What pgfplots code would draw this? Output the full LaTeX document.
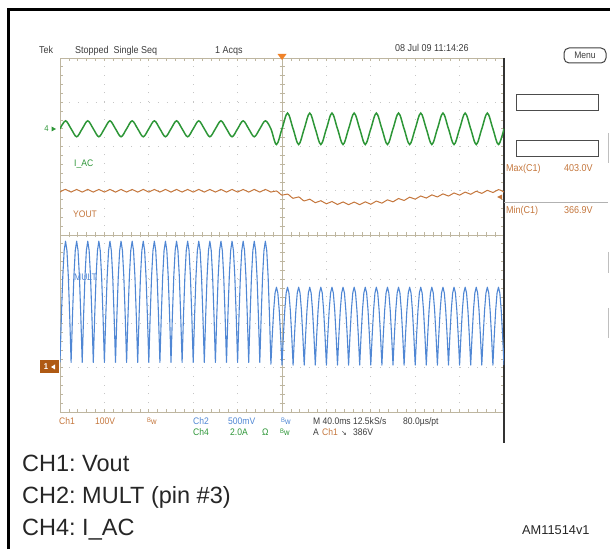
\documentclass[border=0pt]{standalone}
\usepackage{pgfplots}
\pgfplotsset{compat=1.18}
\usepackage{fontspec}
\setmainfont{Liberation Sans}
\newfontfamily\scopefont[FakeStretch=0.9]{Liberation Sans}
\newfontfamily\dejavu{DejaVu Sans}
\definecolor{gridc}{RGB}{190,182,160}
\definecolor{ch1}{RGB}{196,118,60}
\definecolor{ch2}{RGB}{80,135,212}
\definecolor{ch4}{RGB}{45,150,55}
\definecolor{txt}{RGB}{60,60,60}
\definecolor{mark1}{RGB}{175,90,20}
\definecolor{trig}{RGB}{240,130,40}
\newcommand{\bw}{\raisebox{1.8pt}{\fontsize{6.5}{7}\selectfont B}\kern-0.1pt{\fontsize{8.5}{9}\selectfont w}}
\tikzset{t/.style={anchor=base west, inner sep=0pt}}
\frenchspacing
\begin{document}
\frenchspacing
\begin{tikzpicture}
\path[use as bounding box] (0pt,0pt) rectangle (610pt,549pt);
\begin{scope}[x=1pt,y=1pt]
% outer frame
\draw[line width=3pt] (8,0) -- (8,539) -- (610,539);
% graticule dots
\foreach \k in {1,2,3,4,6,7,8,9}
  \draw[gray!45, line width=0.9pt, dash pattern=on 0.9pt off 7.95pt] ({60+44.4*\k},137) -- ({60+44.4*\k},491);
\foreach \k in {1,2,3,5,6,7}
  \draw[gray!45, line width=0.9pt, dash pattern=on 0.9pt off 7.98pt] (60,{137+44.25*\k}) -- (504,{137+44.25*\k});
% centre lines
\draw[gridc, line width=0.8pt] (282,137) -- (282,491);
\draw[gridc, line width=0.8pt] (60,314) -- (504,314);
\foreach \i in {1,...,39} \draw[gridc, line width=0.7pt] (279.5,{137+8.85*\i}) -- (284.5,{137+8.85*\i});
\foreach \i in {1,...,49} \draw[gridc, line width=0.7pt] ({60+8.88*\i},311.5) -- ({60+8.88*\i},316.5);
% border
\draw[gridc, line width=0.9pt] (60,137) rectangle (504,491);
\foreach \i in {1,...,49} {
  \draw[gridc, line width=0.7pt] ({60+8.88*\i},491) -- ++(0,-3);
  \draw[gridc, line width=0.7pt] ({60+8.88*\i},137) -- ++(0,3);
}
\foreach \i in {1,...,39} {
  \draw[gridc, line width=0.7pt] (60,{137+8.85*\i}) -- ++(3,0);
  \draw[gridc, line width=0.7pt] (504,{137+8.85*\i}) -- ++(-3,0);
}
\draw[gray!40!black, line width=1.2pt] (504,491) -- (504,106);
\end{scope}

\begin{axis}[at={(60pt,137pt)}, anchor=south west, width=444pt, height=354pt,
  scale only axis, xmin=0, xmax=400, ymin=-4, ymax=4, axis lines=none]
% CH4 I_AC
\addplot[ch4, line width=1.5pt, smooth, tension=0.55] coordinates {
(0,2.40)(5,2.58)(10,2.40)(15,2.22)(20,2.40)(25,2.58)(30,2.40)(35,2.22)(40,2.40)(45,2.58)
(50,2.40)(55,2.22)(60,2.40)(65,2.58)(70,2.40)(75,2.22)(80,2.40)(85,2.58)(90,2.40)(95,2.22)
(100,2.40)(105,2.58)(110,2.40)(115,2.22)(120,2.40)(125,2.58)(130,2.40)(135,2.22)(140,2.40)(145,2.58)
(150,2.40)(155,2.22)(160,2.40)(165,2.58)(170,2.40)(175,2.22)(180,2.40)(185,2.58)(190,2.40)(195,2.045)
(200,2.40)(205,2.755)(210,2.40)(215,2.045)(220,2.40)(225,2.755)(230,2.40)(235,2.045)(240,2.40)(245,2.755)
(250,2.40)(255,2.045)(260,2.40)(265,2.755)(270,2.40)(275,2.045)(280,2.40)(285,2.755)(290,2.40)(295,2.045)
(300,2.40)(305,2.755)(310,2.40)(315,2.045)(320,2.40)(325,2.755)(330,2.40)(335,2.045)(340,2.40)(345,2.755)
(350,2.40)(355,2.045)(360,2.40)(365,2.755)(370,2.40)(375,2.045)(380,2.40)(385,2.755)(390,2.40)(395,2.045)
(400,2.40)};
% CH1 Vout
\addplot[ch1, line width=1pt, smooth] coordinates {
(0,0.97)(5,1.03)(10,0.97)(15,1.03)(20,0.97)(25,1.03)(30,0.97)(35,1.03)(40,0.97)(45,1.03)
(50,0.97)(55,1.03)(60,0.97)(65,1.03)(70,0.97)(75,1.03)(80,0.97)(85,1.03)(90,0.97)(95,1.03)
(100,0.97)(105,1.03)(110,0.97)(115,1.03)(120,0.97)(125,1.03)(130,0.97)(135,1.03)(140,0.97)(145,1.03)
(150,0.97)(155,1.03)(160,0.97)(165,1.03)(170,0.97)(175,1.03)(180,0.97)(185,1.03)(190,0.97)(195,0.995)
(200,0.90)(205,0.925)(210,0.83)(215,0.86)(220,0.77)(225,0.81)(230,0.73)(235,0.775)(240,0.705)(245,0.757)
(250,0.69)(255,0.747)(260,0.685)(265,0.745)(270,0.685)(275,0.75)(280,0.695)(285,0.767)(290,0.72)(295,0.795)
(300,0.75)(305,0.825)(310,0.78)(315,0.855)(320,0.81)(325,0.882)(330,0.835)(335,0.907)(340,0.86)(345,0.93)
(350,0.88)(355,0.95)(360,0.90)(365,0.97)(370,0.92)(375,0.99)(380,0.94)(385,1.01)(390,0.96)(395,1.025)
(400,0.97)};
% CH2 MULT
\addplot[ch2, line width=1.1pt, line join=round] coordinates {
(0,-2.88)(1.25,-1.83)(2.5,-0.94)(3.75,-0.35)(5,-0.14)(6.25,-0.35)(7.5,-0.94)(8.75,-1.83)
(10,-2.88)(11.25,-1.83)(12.5,-0.94)(13.75,-0.35)(15,-0.14)(16.25,-0.35)(17.5,-0.94)(18.75,-1.83)
(20,-2.88)(21.25,-1.83)(22.5,-0.94)(23.75,-0.35)(25,-0.14)(26.25,-0.35)(27.5,-0.94)(28.75,-1.83)
(30,-2.88)(31.25,-1.83)(32.5,-0.94)(33.75,-0.35)(35,-0.14)(36.25,-0.35)(37.5,-0.94)(38.75,-1.83)
(40,-2.88)(41.25,-1.83)(42.5,-0.94)(43.75,-0.35)(45,-0.14)(46.25,-0.35)(47.5,-0.94)(48.75,-1.83)
(50,-2.88)(51.25,-1.83)(52.5,-0.94)(53.75,-0.35)(55,-0.14)(56.25,-0.35)(57.5,-0.94)(58.75,-1.83)
(60,-2.88)(61.25,-1.83)(62.5,-0.94)(63.75,-0.35)(65,-0.14)(66.25,-0.35)(67.5,-0.94)(68.75,-1.83)
(70,-2.88)(71.25,-1.83)(72.5,-0.94)(73.75,-0.35)(75,-0.14)(76.25,-0.35)(77.5,-0.94)(78.75,-1.83)
(80,-2.88)(81.25,-1.83)(82.5,-0.94)(83.75,-0.35)(85,-0.14)(86.25,-0.35)(87.5,-0.94)(88.75,-1.83)
(90,-2.88)(91.25,-1.83)(92.5,-0.94)(93.75,-0.35)(95,-0.14)(96.25,-0.35)(97.5,-0.94)(98.75,-1.83)
(100,-2.88)(101.25,-1.83)(102.5,-0.94)(103.75,-0.35)(105,-0.14)(106.25,-0.35)(107.5,-0.94)(108.75,-1.83)
(110,-2.88)(111.25,-1.83)(112.5,-0.94)(113.75,-0.35)(115,-0.14)(116.25,-0.35)(117.5,-0.94)(118.75,-1.83)
(120,-2.88)(121.25,-1.83)(122.5,-0.94)(123.75,-0.35)(125,-0.14)(126.25,-0.35)(127.5,-0.94)(128.75,-1.83)
(130,-2.88)(131.25,-1.83)(132.5,-0.94)(133.75,-0.35)(135,-0.14)(136.25,-0.35)(137.5,-0.94)(138.75,-1.83)
(140,-2.88)(141.25,-1.83)(142.5,-0.94)(143.75,-0.35)(145,-0.14)(146.25,-0.35)(147.5,-0.94)(148.75,-1.83)
(150,-2.88)(151.25,-1.83)(152.5,-0.94)(153.75,-0.35)(155,-0.14)(156.25,-0.35)(157.5,-0.94)(158.75,-1.83)
(160,-2.88)(161.25,-1.83)(162.5,-0.94)(163.75,-0.35)(165,-0.14)(166.25,-0.35)(167.5,-0.94)(168.75,-1.83)
(170,-2.88)(171.25,-1.83)(172.5,-0.94)(173.75,-0.35)(175,-0.14)(176.25,-0.35)(177.5,-0.94)(178.75,-1.83)
(180,-2.88)(181.25,-1.83)(182.5,-0.94)(183.75,-0.35)(185,-0.14)(186.25,-0.35)(187.5,-0.94)(188.75,-1.83)
(190,-2.92)
(191.25,-2.27)(192.5,-1.70)(193.75,-1.31)(195,-1.18)(196.25,-1.31)(197.5,-1.70)(198.75,-2.27)(200,-2.94)
(201.25,-2.27)(202.5,-1.70)(203.75,-1.31)(205,-1.18)(206.25,-1.31)(207.5,-1.70)(208.75,-2.27)(210,-2.94)
(211.25,-2.27)(212.5,-1.70)(213.75,-1.31)(215,-1.18)(216.25,-1.31)(217.5,-1.70)(218.75,-2.27)(220,-2.94)
(221.25,-2.27)(222.5,-1.70)(223.75,-1.31)(225,-1.18)(226.25,-1.31)(227.5,-1.70)(228.75,-2.27)(230,-2.94)
(231.25,-2.27)(232.5,-1.70)(233.75,-1.31)(235,-1.18)(236.25,-1.31)(237.5,-1.70)(238.75,-2.27)(240,-2.94)
(241.25,-2.27)(242.5,-1.70)(243.75,-1.31)(245,-1.18)(246.25,-1.31)(247.5,-1.70)(248.75,-2.27)(250,-2.94)
(251.25,-2.27)(252.5,-1.70)(253.75,-1.31)(255,-1.18)(256.25,-1.31)(257.5,-1.70)(258.75,-2.27)(260,-2.94)
(261.25,-2.27)(262.5,-1.70)(263.75,-1.31)(265,-1.18)(266.25,-1.31)(267.5,-1.70)(268.75,-2.27)(270,-2.94)
(271.25,-2.27)(272.5,-1.70)(273.75,-1.31)(275,-1.18)(276.25,-1.31)(277.5,-1.70)(278.75,-2.27)(280,-2.94)
(281.25,-2.27)(282.5,-1.70)(283.75,-1.31)(285,-1.18)(286.25,-1.31)(287.5,-1.70)(288.75,-2.27)(290,-2.94)
(291.25,-2.27)(292.5,-1.70)(293.75,-1.31)(295,-1.18)(296.25,-1.31)(297.5,-1.70)(298.75,-2.27)(300,-2.94)
(301.25,-2.27)(302.5,-1.70)(303.75,-1.31)(305,-1.18)(306.25,-1.31)(307.5,-1.70)(308.75,-2.27)(310,-2.94)
(311.25,-2.27)(312.5,-1.70)(313.75,-1.31)(315,-1.18)(316.25,-1.31)(317.5,-1.70)(318.75,-2.27)(320,-2.94)
(321.25,-2.27)(322.5,-1.70)(323.75,-1.31)(325,-1.18)(326.25,-1.31)(327.5,-1.70)(328.75,-2.27)(330,-2.94)
(331.25,-2.27)(332.5,-1.70)(333.75,-1.31)(335,-1.18)(336.25,-1.31)(337.5,-1.70)(338.75,-2.27)(340,-2.94)
(341.25,-2.27)(342.5,-1.70)(343.75,-1.31)(345,-1.18)(346.25,-1.31)(347.5,-1.70)(348.75,-2.27)(350,-2.94)
(351.25,-2.27)(352.5,-1.70)(353.75,-1.31)(355,-1.18)(356.25,-1.31)(357.5,-1.70)(358.75,-2.27)(360,-2.94)
(361.25,-2.27)(362.5,-1.70)(363.75,-1.31)(365,-1.18)(366.25,-1.31)(367.5,-1.70)(368.75,-2.27)(370,-2.94)
(371.25,-2.27)(372.5,-1.70)(373.75,-1.31)(375,-1.18)(376.25,-1.31)(377.5,-1.70)(378.75,-2.27)(380,-2.94)
(381.25,-2.27)(382.5,-1.70)(383.75,-1.31)(385,-1.18)(386.25,-1.31)(387.5,-1.70)(388.75,-2.27)(390,-2.94)
(391.25,-2.27)(392.5,-1.70)(393.75,-1.31)(395,-1.18)(396.25,-1.31)(397.5,-1.70)(398.75,-2.27)(400,-2.94)};
\end{axis}

\begin{scope}[x=1pt,y=1pt]
% trigger marker and level arrows
\fill[trig] (277.5,495) -- (286.5,495) -- (282,489) -- cycle;
\fill[ch1] (497,352) -- (502,354.5) -- (502,349.5) -- cycle;
\fill[ch4] (51.5,422.5) -- (51.5,417.5) -- (56,420) -- cycle;
\node[ch4, inner sep=0pt, font=\scopefont\fontsize{8.5}{9}\selectfont] at (46.5,420) {4};
\fill[mark1] (40,176) rectangle (59,188.5);
\node[white, inner sep=0pt, font=\scopefont\fontsize{8.5}{9}\selectfont\bfseries] at (46,182) {1};
\fill[white] (51,182) -- (55,184.5) -- (55,179.5) -- cycle;

% trace labels
\node[t, ch4, font=\scopefont\fontsize{9.5}{10}\selectfont] at (74,382.6) {I\_AC};
\node[t, ch1, font=\scopefont\fontsize{9.5}{10}\selectfont] at (73,331.6) {YOUT};
\node[t, ch2, font=\scopefont\fontsize{9.5}{10}\selectfont] at (74,268.6) {MULT};

% header
\begin{scope}[every node/.style={t, txt, font=\scopefont\fontsize{10}{11}\selectfont}]
\node at (39,495.5) {Tek};
\node at (75,495.5) {Stopped\ \ Single Seq};
\node at (215,495.5) {1 Acqs};
\node at (395,497.5) {08 Jul 09 11:14:26};
\end{scope}

% right panel
\draw[black!75, line width=1pt, rounded corners=5pt] (564,486) rectangle (606,501);
\node[txt, inner sep=0pt, font=\scopefont\fontsize{9.5}{10}\selectfont] at (585,493.5) {Menu};
\draw[gray!60!black, line width=1pt] (516,438) rectangle (598,454);
\draw[gray!60!black, line width=1pt] (516,392) rectangle (598,408);
\draw[gray!60, line width=0.8pt] (504,347) -- (608,347);
\draw[gray!50, line width=0.8pt] (608,416) -- (608,386);
\draw[gray!50, line width=0.8pt] (608,297) -- (608,276);
\draw[gray!50, line width=0.8pt] (608,241) -- (608,211);
\begin{scope}[every node/.style={t, ch1, font=\scopefont\fontsize{10}{11}\selectfont}]
\node at (506,377.2) {Max(C1)};
\node at (564,377.2) {403.0V};
\node at (506,335.5) {Min(C1)};
\node at (564,335.5) {366.9V};
\end{scope}

% bottom scope readout
\begin{scope}[every node/.style={t, font=\scopefont\fontsize{9.5}{10}\selectfont}]
\node[ch1] at (59,124.5) {Ch1};
\node[ch1] at (95,124.5) {100V};
\node[ch1] at (147,124.5) {\bw};
\node[ch2] at (193,124.5) {Ch2};
\node[ch2] at (228,124.5) {500mV};
\node[ch2] at (281,124.5) {\bw};
\node[txt] at (313,124.5) {M 40.0ms 12.5kS/s};
\node[txt] at (403,124.5) {80.0µs/pt};
\node[ch4] at (193,113.5) {Ch4};
\node[ch4] at (230,113.5) {2.0A};
\node[ch4] at (262,113.5) {Ω};
\node[ch4] at (280,113.5) {\bw};
\node[txt] at (313,113.5) {A};
\node[ch1] at (322,113.5) {Ch1};
\node[txt] at (341,113.5) {{\dejavu\fontsize{7}{8}\selectfont ↘}};
\node[txt] at (353,113.5) {386V};
\end{scope}

% captions
\begin{scope}[every node/.style={t, black!85, font=\fontsize{23.5}{27}\selectfont}]
\node at (22,78) {CH1: Vout};
\node at (22,46) {CH2: MULT (pin \#3)};
\node at (22,14) {CH4: I\_AC};
\end{scope}
\node[t, black!85, font=\fontsize{12.8}{14}\selectfont] at (522,15) {AM11514v1};
\end{scope}
\end{tikzpicture}
\end{document}
